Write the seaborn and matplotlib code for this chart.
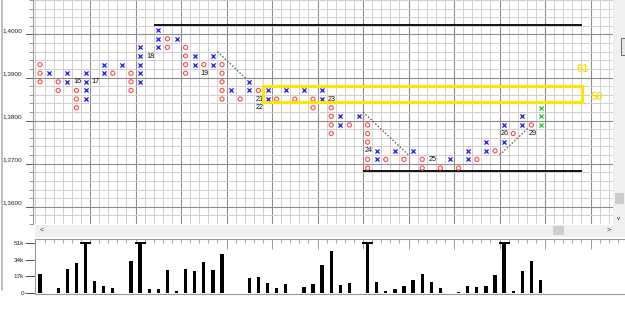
import numpy as np
import pandas as pd
import matplotlib
matplotlib.use("Agg")
import matplotlib.pyplot as plt
import matplotlib.transforms as mtransforms
import seaborn as sns
from matplotlib.patches import Rectangle
from matplotlib.lines import Line2D

sns.set_style("white")
plt.rcParams['font.family'] = ['Liberation Sans', 'DejaVu Sans']

# ---------------- data ----------------
BOX = 0.002
col_kind = ["O", "X"] * 28          # columns alternate, starting with O
col_low = [1.3880, 1.3900, 1.3860, 1.3880, 1.3820, 1.3840, 1.3880, 1.3900, 1.3900, 1.3920,
           1.3860, 1.3880, 1.3940, 1.3960, 1.3960, 1.3980, 1.3900, 1.3920, 1.3900, 1.3920,
           1.3840, 1.3860, 1.3840, 1.3860, 1.3820, 1.3840, 1.3840, 1.3860, 1.3840, 1.3860,
           1.3820, 1.3840, 1.3760, 1.3780, 1.3780, 1.3800, 1.3680, 1.3700, 1.3700, 1.3720,
           1.3700, 1.3720, 1.3680, 1.3700, 1.3680, 1.3700, 1.3680, 1.3700, 1.3700, 1.3720,
           1.3720, 1.3740, 1.3760, 1.3780, 1.3760, 1.3780]
col_high = [1.3920, 1.3900, 1.3880, 1.3900, 1.3880, 1.3900, 1.3880, 1.3920, 1.3900, 1.3920,
            1.3900, 1.3960, 1.3940, 1.4000, 1.3980, 1.3980, 1.3960, 1.3940, 1.3920, 1.3940,
            1.3920, 1.3860, 1.3840, 1.3880, 1.3860, 1.3860, 1.3840, 1.3860, 1.3840, 1.3860,
            1.3840, 1.3860, 1.3840, 1.3800, 1.3780, 1.3800, 1.3780, 1.3720, 1.3700, 1.3720,
            1.3700, 1.3720, 1.3700, 1.3700, 1.3680, 1.3700, 1.3680, 1.3720, 1.3700, 1.3740,
            1.3720, 1.3780, 1.3760, 1.3800, 1.3780, 1.3820]
current_cols = [55]

label_col = [4, 6, 12, 18, 24, 24, 32, 36, 43, 51, 54]
label_price = [1.3880, 1.3880, 1.3940, 1.3900, 1.3840, 1.3820, 1.3840, 1.3720, 1.3700, 1.3760, 1.3760]
label_text = ["16", "17", "18", "19", "21", "22", "23", "24", "25", "26", "29"]

volume_k = [19.5, 0, 4.8, 24.7, 30.8, 60, 12.7, 7.2, 5.1, 0,
            32.9, 60, 4.1, 4.1, 24.0, 1.7, 24.7, 22.3, 31.8, 23.6,
            39.7, 0, 0, 15.4, 16.4, 9.9, 4.8, 9.2, 0, 6.5,
            9.2, 29.1, 43.5, 7.9, 9.9, 0, 60, 11.3, 2.4, 3.8,
            7.2, 13.4, 19.2, 11.0, 5.1, 0, 1.0, 7.2, 6.2, 7.2,
            18.5, 60, 1.7, 22.3, 33.2, 13.4]
vol_ticks = [0, 17, 34, 51]
vol_tick_labels = ["0", "17k", "34k", "51k"]

price_labels = ["1,4000", "1,3900", "1,3800", "1,3700", "1,3600"]
price_label_values = [1.4000, 1.3900, 1.3800, 1.3700, 1.3600]

resistance_level = 1.4011
resistance_span = (12.5, 59.55)
support_level = 1.3672
support_span = (35.5, 59.55)
trend_lines = [((19.5, 1.3950), (22.6, 1.3888)),
               ((35.5, 1.3810), (40.6, 1.3708)),
               ((50.5, 1.3710), (53.6, 1.3772))]
target_box = (24.5, 59.55, 1.3833, 1.3871)
target_texts = [(59.6, 1.3909, "61"), (61.2, 1.3845, "50")]

RED = "#ff4a4a"
BLUE = "#1a1aff"
GREEN = "#22cc22"
YELLOW = "#ffe600"

# ---------------- build boxes ----------------
label_set = {(c, round(p, 4)) for c, p in zip(label_col, label_price)}
rows = []
for c, (k, lo, hi) in enumerate(zip(col_kind, col_low, col_high)):
    n = int(round((hi - lo) / BOX)) + 1
    for i in range(n):
        p = round(lo + i * BOX, 4)
        if (c, p) in label_set:
            continue
        color = GREEN if c in current_cols else (BLUE if k == "X" else RED)
        rows.append((c, p, k, color))
boxes = pd.DataFrame(rows, columns=["col", "price", "kind", "color"])

W, H = 625, 311
fig = plt.figure(figsize=(W / 100, H / 100), dpi=100)
fig.patch.set_facecolor("white")

def fx(px):
    return px / W

def fy(py):
    return 1 - py / H

x0_px, x1_px = 33.3, 613.0
ax = fig.add_axes([fx(x0_px), fy(224), fx(x1_px) - fx(x0_px), 224 / H])
colw = 9.1
ax.set_xlim((x0_px - 40) / colw, (x1_px - 40) / colw)
ax.set_ylim(1.4000 - (224 - 26.7) / colw * BOX, 1.4000 + 26.7 / colw * BOX)

# grid
LIGHT = "#d0d0d0"
DARK = "#8e8e8e"
edges_x = np.arange(-0.5, 63.5, 1.0)
for e in edges_x:
    dark = (round(e - 0.5) % 5 == 0) and e > 1
    ax.axvline(e, color=DARK if dark else LIGHT, lw=0.8 if dark else 0.7, zorder=0)
edges_y = np.round(np.arange(1.3550, 1.4080, BOX), 4)
for e in edges_y:
    dark = abs(((e - 1.3590) / 0.01) - round((e - 1.3590) / 0.01)) < 1e-6
    ax.axhline(e, color=DARK if dark else LIGHT, lw=0.8 if dark else 0.7, zorder=0)

# boxes
for (kind, color), g in boxes.groupby(["kind", "color"]):
    if kind == "X":
        sns.scatterplot(data=g, x="col", y="price", marker="x", color=color,
                        s=9, linewidth=0.9, ax=ax, zorder=3, legend=False)
    else:
        sns.scatterplot(data=g, x="col", y="price", marker="o", facecolor="none",
                        edgecolor=color, s=9, linewidth=0.8, ax=ax, zorder=3, legend=False)

for c, p, t in zip(label_col, label_price, label_text):
    ax.text(c + 0.1, p, t, fontsize=5.2, ha="center", va="center",
            color=GREEN if c in current_cols else "#111111", zorder=4)

ax.hlines(resistance_level, *resistance_span, color="black", lw=1.3, zorder=2)
ax.hlines(support_level, *support_span, color="black", lw=1.3, zorder=2)
for (xa, ya), (xb, yb) in trend_lines:
    ax.plot([xa, xb], [ya, yb], color="#555555", lw=0.9, ls=(0, (1.2, 1.5)), zorder=2)

bx0, bx1, by0, by1 = target_box
ax.add_patch(Rectangle((bx0, by0), bx1 - bx0, by1 - by0, fill=False,
                       edgecolor=YELLOW, lw=2.2, zorder=5, clip_on=False))
for tx, ty, tt in target_texts:
    ax.text(tx, ty, tt, fontsize=8, fontweight="bold", color="#f5de1a",
            ha="center", va="center", zorder=5, clip_on=False)

# axes styling
for s in ["top", "right", "bottom"]:
    ax.spines[s].set_visible(False)
ax.spines["left"].set_color("#9a9a9a")
ax.spines["left"].set_linewidth(0.8)
ax.set_xticks([])
ax.set_xlabel("")
ax.set_ylabel("")
ax.set_yticks(price_label_values)
ax.set_yticklabels(price_labels, fontsize=4.6, color="#222222")
ax.set_yticks(edges_y, minor=True)
ax.tick_params(axis="y", which="major", length=0, pad=8, left=True)
ax.tick_params(axis="y", which="minor", length=3, width=0.6, color="#888888", left=True)
# long tick marks under each price label (at the lower edge of the labelled row)
axw_px = x1_px - x0_px
blend = mtransforms.blended_transform_factory(ax.transAxes, ax.transData)
for v in price_label_values:
    ax.plot([-7.5 / axw_px, 0], [v - BOX / 2] * 2, transform=blend, clip_on=False,
            color="#555555", lw=0.7)

# ---------------- volume panel ----------------
vx0, vx1 = 35, 625
ax2 = fig.add_axes([fx(vx0), fy(294), fx(vx1) - fx(vx0), (294 - 239) / H])
VMAX = 51
cols = np.arange(len(volume_k))
vol_df = pd.DataFrame({"col": cols, "vol": np.minimum(volume_k, VMAX)})
sns.barplot(data=vol_df, x="col", y="vol", native_scale=True, width=0.36,
            color="black", saturation=1, errorbar=None, linewidth=0, ax=ax2)
caps = [c for c, v in zip(cols, volume_k) if v > VMAX]
ax2.hlines([VMAX] * len(caps), np.array(caps) - 0.6, np.array(caps) + 0.6,
           color="black", lw=1.4)
ax2.set_xlim((vx0 - 40) / colw, (vx1 - 40) / colw)
ax2.set_ylim(-1.03, 55.4)
ax2.set_xlabel("")
ax2.set_ylabel("")
for s in ["right"]:
    ax2.spines[s].set_visible(False)
for s in ["left", "top", "bottom"]:
    ax2.spines[s].set_color("#9a9a9a")
    ax2.spines[s].set_linewidth(0.8)
ax2.set_yticks(vol_ticks)
ax2.set_yticklabels(vol_tick_labels, fontsize=4.6, color="#222222")
ax2.tick_params(axis="y", length=7, width=0.7, color="#555555", pad=1, left=True)
ax2.xaxis.set_ticks_position("top")
ax2.set_xticks(np.arange(20.5, 64, 5.0))
ax2.set_xticks(np.arange(-0.5, 64, 1.0), minor=True)
ax2.tick_params(axis="x", which="major", direction="in", length=7, width=0.7,
                color="#9a9a9a", labeltop=False, labelbottom=False, top=True, bottom=False)
ax2.tick_params(axis="x", which="minor", direction="in", length=3, width=0.6,
                color="#9a9a9a", top=True, bottom=False)

# ---------------- window chrome ----------------
def frect(x, y, w, h, **kw):
    fig.patches.append(Rectangle((fx(x), fy(y + h)), w / W, h / H,
                                 transform=fig.transFigure, **kw))

frect(35, 225, 578, 12, facecolor="#f0f0f0", edgecolor="none")
frect(613, 0, 12, 237, facecolor="#f0f0f0", edgecolor="none")
frect(553, 226, 11, 9, facecolor="#cdcdcd", edgecolor="none")
frect(615, 193, 9, 11, facecolor="#cdcdcd", edgecolor="none")
frect(621, 38, 5, 17, facecolor="#e6e6e6", edgecolor="#555555", lw=0.6)
fig.text(fx(42), fy(230.5), "<", fontsize=5, color="#333333", ha="center", va="center")
fig.text(fx(608.5), fy(230.5), ">", fontsize=5, color="#333333", ha="center", va="center")
fig.text(fx(619), fy(219), "v", fontsize=4.5, color="#333333", ha="center", va="center")
fig.lines.append(Line2D([fx(2), fx(2)], [fy(290), 1], transform=fig.transFigure,
                        color="#b4b4b4", lw=1.2))

fig.savefig("out.png", dpi=100, facecolor="white")
